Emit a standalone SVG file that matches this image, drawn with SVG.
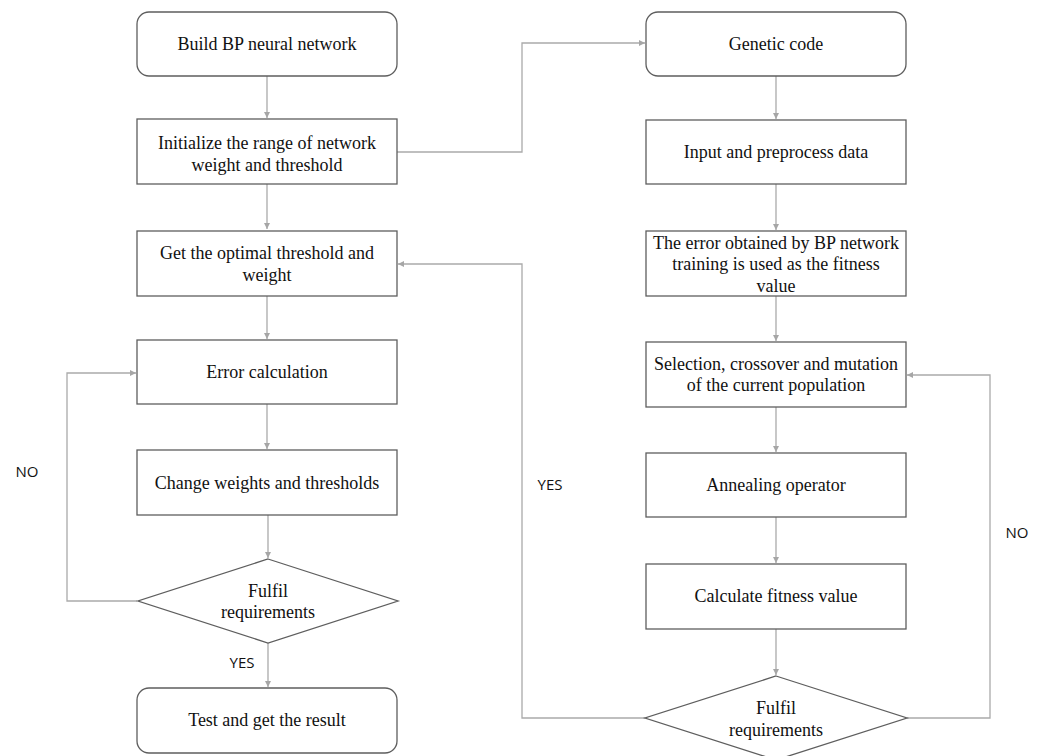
<svg xmlns="http://www.w3.org/2000/svg" width="1040" height="756" viewBox="0 0 1040 756">
<defs>
<marker id="ah" viewBox="0 0 6 6" refX="6" refY="3" markerWidth="6" markerHeight="6" markerUnits="userSpaceOnUse" orient="auto">
<path d="M0,0 L6,3 L0,6 z" fill="#a6a6a6"/>
</marker>
</defs>
<style>
.box{fill:#fff;stroke:#5e5e5e;stroke-width:1.3}
.t{font-family:"Liberation Serif","Times New Roman",serif;font-size:18px;fill:#111;text-anchor:middle}
.lab{font-family:"Open Sans","Liberation Sans",sans-serif;font-size:15px;fill:#111;text-anchor:middle}
.c{fill:none;stroke:#aaaaaa;stroke-width:1.3}
</style>
<rect width="1040" height="756" fill="#fff"/>
<g id="connectors">
<path class="c" d="M267,76 V118" marker-end="url(#ah)"/>
<path class="c" d="M267,184 V229" marker-end="url(#ah)"/>
<path class="c" d="M267,296 V339" marker-end="url(#ah)"/>
<path class="c" d="M267,404 V449" marker-end="url(#ah)"/>
<path class="c" d="M268,515 V558" marker-end="url(#ah)"/>
<path class="c" d="M268,643 V687" marker-end="url(#ah)"/>
<path class="c" d="M137,601 H67 V373 H136" marker-end="url(#ah)"/>
<path class="c" d="M397,152 H522 V43 H645" marker-end="url(#ah)"/>
<path class="c" d="M776,76 V119" marker-end="url(#ah)"/>
<path class="c" d="M776,184 V230" marker-end="url(#ah)"/>
<path class="c" d="M776,296 V341" marker-end="url(#ah)"/>
<path class="c" d="M776,407 V452" marker-end="url(#ah)"/>
<path class="c" d="M776,517 V563" marker-end="url(#ah)"/>
<path class="c" d="M776,629 V675" marker-end="url(#ah)"/>
<path class="c" d="M645,718 H522 V264 H398" marker-end="url(#ah)"/>
<path class="c" d="M907,718 H990 V375 H907" marker-end="url(#ah)"/>
</g>
<g id="n1"><rect class="box" x="137" y="12" width="260" height="64" rx="12"/><text class="t" x="267" y="50">Build BP neural network</text></g>
<g id="n2"><rect class="box" x="137" y="119" width="260" height="65"/><text class="t" x="267" y="149">Initialize the range of network</text><text class="t" x="267" y="171">weight and threshold</text></g>
<g id="n3"><rect class="box" x="137" y="231" width="260" height="65"/><text class="t" x="267" y="259">Get the optimal threshold and</text><text class="t" x="267" y="281">weight</text></g>
<g id="n4"><rect class="box" x="137" y="340" width="260" height="64"/><text class="t" x="267" y="378">Error calculation</text></g>
<g id="n5"><rect class="box" x="137" y="450" width="260" height="65"/><text class="t" x="267" y="489">Change weights and thresholds</text></g>
<g id="n6"><polygon class="box" points="268,559 398,601 268,643 138,601"/><text class="t" x="268" y="597">Fulfil</text><text class="t" x="268" y="618">requirements</text></g>
<g id="n7"><rect class="box" x="137" y="688" width="260" height="65" rx="12"/><text class="t" x="267" y="726">Test and get the result</text></g>
<g id="n8"><rect class="box" x="646" y="12" width="260" height="64" rx="12"/><text class="t" x="776" y="50">Genetic code</text></g>
<g id="n9"><rect class="box" x="646" y="120" width="260" height="64"/><text class="t" x="776" y="158">Input and preprocess data</text></g>
<g id="n10"><rect class="box" x="646" y="231" width="260" height="65"/><text class="t" x="776" y="249">The error obtained by BP network</text><text class="t" x="776" y="270">training is used as the fitness</text><text class="t" x="776" y="292">value</text></g>
<g id="n11"><rect class="box" x="646" y="342" width="260" height="65"/><text class="t" x="776" y="370">Selection, crossover and mutation</text><text class="t" x="776" y="391">of the current population</text></g>
<g id="n12"><rect class="box" x="646" y="453" width="260" height="64"/><text class="t" x="776" y="491">Annealing operator</text></g>
<g id="n13"><rect class="box" x="646" y="564" width="260" height="65"/><text class="t" x="776" y="602">Calculate fitness value</text></g>
<g id="n14"><polygon class="box" points="776,676 907,718 776,760 645,718"/><text class="t" x="776" y="714">Fulfil</text><text class="t" x="776" y="736">requirements</text></g>
<g id="labels">
<text class="lab" x="27" y="477">NO</text>
<text class="lab" x="550" y="490">YES</text>
<text class="lab" x="1017" y="538">NO</text>
<text class="lab" x="242" y="668">YES</text>
</g>
</svg>
